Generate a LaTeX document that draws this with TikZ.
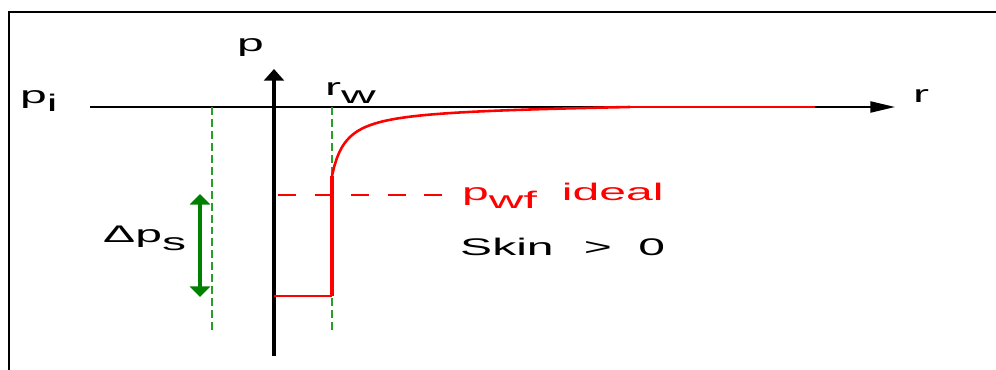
\documentclass[tikz,border=0pt]{standalone}
\usepackage{fontspec}
\setmainfont{Liberation Sans}
\usepackage{graphicx}
\usepackage{xcolor}
\usepackage{tikz}
\usetikzlibrary{arrows.meta,calc}

\definecolor{skingreen}{RGB}{0,128,0}
\definecolor{guidegreen}{RGB}{40,160,40}

% stretched label text, lowered subscript
\newcommand{\wide}[1]{\scalebox{2.0}[1]{#1}}
\newcommand{\lowsub}[1]{\raisebox{-6pt}{#1}}

\begin{document}
\begin{tikzpicture}[
    x=0.03cm, y=-0.03cm,
    lbl/.style={font=\fontsize{20.5}{22}\selectfont, inner sep=0pt, anchor=base west},
    axis/.style={-{Triangle[length=21pt,width=9.5pt]}, line width=1.5pt},
    paxis/.style={-{Triangle[length=10pt,width=17pt]}, line width=3.2pt},
    guide/.style={guidegreen, line width=1.9pt, dash pattern=on 6.8pt off 3.4pt},
    skinarrow/.style={{Triangle[length=9pt,width=17pt]}-{Triangle[length=9pt,width=17pt]},
                      skingreen, line width=3pt},
    ideal/.style={red, line width=1pt, dash pattern=on 15.3pt off 15.9pt},
    profile/.style={red, line width=2.2pt}
]

\useasboundingbox (0,0) rectangle (996,370);

% -------------------------------------------------
% Frame (left and top edges)
% -------------------------------------------------

\draw[line width=2pt] (9,370) -- (9,12) -- (996,12);

% -------------------------------------------------
% Axes
% -------------------------------------------------

\coordinate (r0) at (90,107);
\coordinate (r1) at (895,107);
\coordinate (p0) at (274,356);
\coordinate (p1) at (274,69);

\draw[axis] (r0) -- (r1);
\draw[paxis] (p0) -- (p1);

\node[lbl] (rlab) at (913,103) {\wide{r}};
\node[lbl] (plab) at (237,52) {\wide{p}};
\node[lbl] (pilab) at (20,104) {\wide{p\lowsub{i}}};
\node[lbl] (rwlab) at (325,96) {\wide{r\lowsub{w}}};

% -------------------------------------------------
% Guide lines (green, dashed)
% -------------------------------------------------

\coordinate (ga0) at (212,107);
\coordinate (ga1) at (212,331);
\coordinate (gw0) at (332,107);
\coordinate (gw1) at (332,331);

\draw[guide] (ga0) -- (ga1);
\draw[guide] (gw0) -- (gw1);

% -------------------------------------------------
% Skin pressure drop
% -------------------------------------------------

\coordinate (ds0) at (200,194);
\coordinate (ds1) at (200,297);

\draw[skinarrow] (ds0) -- (ds1);

\node[lbl] (dplab) at (103,243) {\wide{Δp\lowsub{s}}};

% -------------------------------------------------
% Pressure profile
% -------------------------------------------------

\coordinate (wb0) at (274,296);
\coordinate (wb1) at (332,296);
\coordinate (wb2) at (332,176);
\coordinate (rc)  at (630,107);
\coordinate (re)  at (815,107);

\draw[red, line width=1.5pt] (wb0) -- (wb1);
\draw[red, line width=2.8pt] (wb1) -- (wb2);
\draw[profile]
  plot[domain=332:630, samples=120, variable=\x]
  (\x, {107 + 966/(\x-318) - 3.1*(\x-332)/298});
\draw[red, line width=1.5pt] (rc) -- (re);

% -------------------------------------------------
% Ideal bottomhole pressure
% -------------------------------------------------

\coordinate (id0) at (278,195);
\coordinate (id1) at (443,195);

\draw[ideal] (id0) -- (id1);

\node[lbl, text=red] (pwflab) at (462,201)
  {\wide{p\lowsub{wf}\hspace{0.52em}ideal}};

\node[lbl] (skinlab) at (460,256)
  {\wide{Skin\hspace{0.63em}>\hspace{0.55em}0}};

\end{tikzpicture}
\end{document}
